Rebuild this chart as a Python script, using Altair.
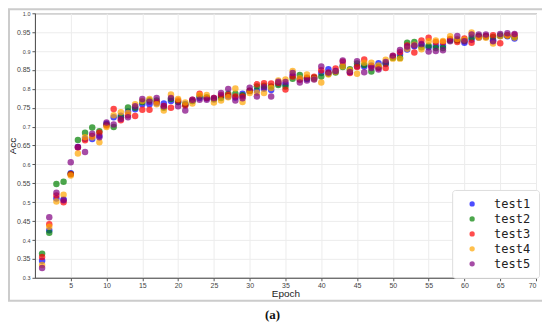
import altair as alt
import pandas as pd

epochs = list(range(1, 68))
series_names = ["test1", "test2", "test3", "test4", "test5"]
series_colors = ["blue", "green", "red", "orange", "purple"]

test1 = [0.345, 0.426, 0.510, 0.507, 0.577, 0.646, 0.668, 0.667, 0.676, 0.708,
         0.725, 0.729, 0.740, 0.746, 0.759, 0.759, 0.762, 0.761, 0.768, 0.765,
         0.760, 0.768, 0.776, 0.775, 0.772, 0.780, 0.780, 0.777, 0.787, 0.794,
         0.796, 0.800, 0.797, 0.814, 0.812, 0.835, 0.826, 0.826, 0.828, 0.842,
         0.852, 0.846, 0.862, 0.845, 0.860, 0.859, 0.862, 0.868, 0.866, 0.884,
         0.890, 0.904, 0.913, 0.917, 0.910, 0.914, 0.914, 0.930, 0.930, 0.922,
         0.930, 0.936, 0.937, 0.928, 0.940, 0.939, 0.933]
test2 = [0.364, 0.419, 0.548, 0.554, 0.575, 0.665, 0.684, 0.698, 0.688, 0.705,
         0.699, 0.725, 0.751, 0.750, 0.765, 0.770, 0.769, 0.750, 0.773, 0.765,
         0.758, 0.768, 0.780, 0.778, 0.774, 0.776, 0.787, 0.787, 0.783, 0.795,
         0.806, 0.808, 0.806, 0.810, 0.806, 0.827, 0.837, 0.828, 0.830, 0.833,
         0.840, 0.843, 0.858, 0.852, 0.867, 0.863, 0.846, 0.858, 0.868, 0.882,
         0.882, 0.922, 0.924, 0.910, 0.914, 0.908, 0.908, 0.928, 0.928, 0.928,
         0.936, 0.940, 0.939, 0.937, 0.941, 0.941, 0.937]
test3 = [0.355, 0.442, 0.518, 0.500, 0.574, 0.645, 0.664, 0.675, 0.684, 0.703,
         0.747, 0.717, 0.730, 0.728, 0.745, 0.745, 0.765, 0.755, 0.750, 0.769,
         0.756, 0.771, 0.787, 0.776, 0.776, 0.784, 0.784, 0.780, 0.780, 0.795,
         0.812, 0.815, 0.814, 0.816, 0.798, 0.833, 0.824, 0.830, 0.832, 0.849,
         0.843, 0.854, 0.872, 0.842, 0.858, 0.878, 0.860, 0.855, 0.855, 0.887,
         0.897, 0.915, 0.896, 0.928, 0.935, 0.924, 0.924, 0.932, 0.924, 0.933,
         0.922, 0.938, 0.940, 0.942, 0.921, 0.942, 0.943]
test4 = [0.334, 0.435, 0.502, 0.520, 0.571, 0.629, 0.672, 0.672, 0.659, 0.699,
         0.730, 0.738, 0.736, 0.759, 0.768, 0.773, 0.759, 0.743, 0.785, 0.773,
         0.764, 0.761, 0.784, 0.784, 0.764, 0.769, 0.778, 0.801, 0.765, 0.789,
         0.790, 0.789, 0.802, 0.822, 0.825, 0.847, 0.828, 0.838, 0.826, 0.817,
         0.838, 0.845, 0.860, 0.849, 0.840, 0.869, 0.869, 0.862, 0.877, 0.880,
         0.880, 0.906, 0.917, 0.905, 0.926, 0.928, 0.927, 0.939, 0.932, 0.930,
         0.949, 0.935, 0.935, 0.920, 0.939, 0.941, 0.936]
test5 = [0.326, 0.460, 0.525, 0.505, 0.606, 0.646, 0.633, 0.681, 0.672, 0.711,
         0.706, 0.720, 0.725, 0.754, 0.773, 0.766, 0.776, 0.754, 0.776, 0.754,
         0.743, 0.771, 0.771, 0.771, 0.776, 0.789, 0.800, 0.769, 0.775, 0.803,
         0.780, 0.804, 0.780, 0.819, 0.818, 0.842, 0.817, 0.822, 0.825, 0.859,
         0.843, 0.847, 0.875, 0.844, 0.873, 0.844, 0.855, 0.851, 0.871, 0.888,
         0.903, 0.912, 0.915, 0.919, 0.899, 0.900, 0.902, 0.926, 0.940, 0.926,
         0.944, 0.944, 0.944, 0.926, 0.945, 0.947, 0.945]

x_ticks = list(range(5, 75, 5))
y_ticks = [round(0.3 + 0.05 * i, 2) for i in range(15)]

rows = []
for idx, (name, vals) in enumerate(zip(series_names, [test1, test2, test3, test4, test5])):
    for e, v in zip(epochs, vals):
        rows.append({"Epoch": e, "Acc": v, "series": name, "k": idx})
df = pd.DataFrame(rows)

W, H = 502, 265
FONT = "Liberation Sans"

points = alt.Chart(df).mark_circle(size=42, opacity=0.7).encode(
    x=alt.X("Epoch:Q",
            scale=alt.Scale(domain=[0, 70], nice=False, zero=False),
            axis=alt.Axis(values=x_ticks, title="Epoch", labelFontSize=7,
                          labelFont=FONT, labelColor="#444", titleFont=FONT,
                          titleFontSize=10, titleFontWeight="normal",
                          titleColor="#222", titlePadding=0, tickSize=3,
                          labelPadding=1, domainColor="#555", tickColor="#555",
                          gridColor="#ececec")),
    y=alt.Y("Acc:Q",
            scale=alt.Scale(domain=[0.3, 1.0], nice=False, zero=False),
            axis=alt.Axis(values=y_ticks, title="Acc",
                          labelExpr="datum.value == 1 ? '1.0' : (round(datum.value*100) % 10 == 5 ? format(datum.value, '.2f') : format(datum.value, '.1f'))",
                          labelFontSize={"condition": {"test": "round(datum.value*100) % 10 == 5", "value": 7}, "value": 5.5},
                          labelFont=FONT, labelColor="#444", titleFont=FONT,
                          titleFontSize=10, titleFontWeight="normal",
                          titleColor="#222", titleX=-22, titleY=H / 2,
                          titleAngle=270, titleAlign="center", titleBaseline="middle",
                          tickSize=3, labelPadding=2, domainColor="#555",
                          tickColor="#555", gridColor="#ececec")),
    color=alt.Color("series:N",
                    scale=alt.Scale(domain=series_names, range=series_colors),
                    legend=alt.Legend(title=None, orient="none", legendX=418, legendY=177,
                                      fillColor="white", strokeColor="#dddddd",
                                      padding=8, cornerRadius=3,
                                      labelFont="DejaVu Sans Mono", labelFontSize=12,
                                      labelColor="#222", labelOffset=16,
                                      symbolType="circle", symbolSize=28,
                                      symbolOpacity=0.7, symbolStrokeWidth=0,
                                      symbolOffset=6, rowPadding=3)),
    order=alt.Order("k:Q"),
)

border = alt.Chart(pd.DataFrame({"a": [0]})).mark_rect(
    fill="transparent", stroke="#cccccc", strokeWidth=2
).encode(x=alt.value(-26), x2=alt.value(W + 8), y=alt.value(-4), y2=alt.value(288))

caption = alt.Chart(pd.DataFrame({"t": ["(a)"]})).mark_text(
    font="Liberation Serif", fontSize=13, fontWeight="bold", color="#111",
    baseline="middle", align="center"
).encode(text="t:N", x=alt.value(238), y=alt.value(302))

chart = alt.layer(border, points, caption).properties(
    width=W, height=H,
    autosize=alt.AutoSizeParams(type="none"),
    padding={"left": 27, "top": 5, "right": 6, "bottom": 52},
).configure_view(stroke="#666666", strokeWidth=1)

chart.save("out.html", embed_options={"renderer": "svg", "actions": False})
